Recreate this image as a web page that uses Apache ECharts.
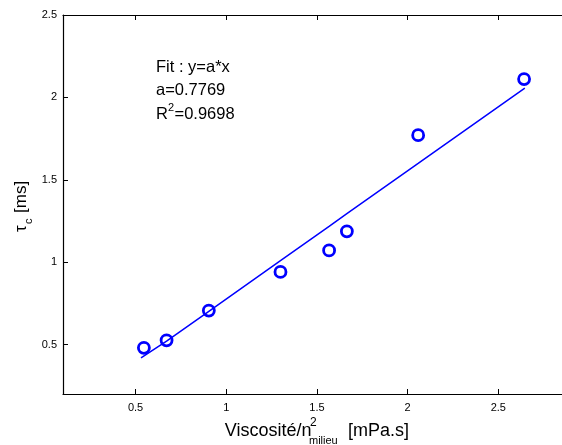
<!DOCTYPE html>
<html>
<head>
<meta charset="utf-8">
<script src="https://cdn.jsdelivr.net/npm/echarts@6/dist/echarts.min.js"></script>
<style>
html,body{margin:0;padding:0;background:#fff;}
#c{width:562px;height:445px;}
</style>
</head>
<body>
<div id="c"></div>
<script>
// Data
var viscX = [0.546, 0.671, 0.904, 1.299, 1.567, 1.665, 2.058, 2.642];
var tauY  = [0.480, 0.526, 0.706, 0.941, 1.071, 1.187, 1.771, 2.111];
var fitX  = [0.53, 0.671, 0.904, 1.299, 1.567, 1.665, 2.058, 2.646];
var fitY  = [0.419, 0.521, 0.702, 1.009, 1.217, 1.294, 1.599, 2.056];
var xTicks = [0.5, 1, 1.5, 2, 2.5];
var yTicks = [0.5, 1, 1.5, 2, 2.5];
var annotation = ['Fit : y=a*x', 'a=0.7769', 'R', '2', '=0.9698'];

var FONT = '"Liberation Sans", Arial, sans-serif';
var chart = echarts.init(document.getElementById('c'), null, {renderer: 'canvas'});

function pairs(xs, ys) { return xs.map(function (x, i) { return [x, ys[i]]; }); }

var axisCommon = {
  type: 'value',
  axisLine: {show: true, onZero: false, lineStyle: {color: '#000', width: 1.2}},
  splitLine: {show: false}
};

chart.setOption({
  animation: false,
  backgroundColor: '#fff',
  grid: {left: 63, right: 0, top: 15, bottom: 51},
  xAxis: [
    Object.assign({}, axisCommon, {
      position: 'bottom', min: 0.1, max: 2.851,
      axisTick: {show: true, inside: true, length: 5, customValues: xTicks, lineStyle: {color: '#000'}},
      axisLabel: {show: true, customValues: xTicks, margin: 8, fontSize: 11, color: '#000', fontFamily: FONT}
    }),
    Object.assign({}, axisCommon, {
      position: 'top', min: 0.1, max: 2.851,
      axisTick: {show: true, inside: true, length: 5, customValues: xTicks, lineStyle: {color: '#000'}},
      axisLabel: {show: false}
    })
  ],
  yAxis: [
    Object.assign({}, axisCommon, {
      position: 'left', min: 0.2, max: 2.5,
      axisTick: {show: true, inside: true, length: 5, customValues: yTicks, lineStyle: {color: '#000'}},
      axisLabel: {show: true, customValues: yTicks, margin: 6, fontSize: 11, color: '#000', fontFamily: FONT}
    })
  ],
  series: [
    {
      type: 'line', xAxisIndex: 0, yAxisIndex: 0,
      data: pairs(fitX, fitY), symbol: 'none', smooth: false,
      lineStyle: {color: '#0000ff', width: 1.5}, z: 2
    },
    {
      type: 'scatter', xAxisIndex: 0, yAxisIndex: 0,
      data: pairs(viscX, tauY), symbol: 'circle', symbolSize: 11,
      itemStyle: {color: 'rgba(0,0,0,0)', borderColor: '#0000ff', borderWidth: 2.8, opacity: 1}, z: 3
    }
  ],
  graphic: [
    {type: 'text', left: 156, top: 59, style: {text: annotation[0], font: '16.5px ' + FONT, fill: '#000'}},
    {type: 'text', left: 156, top: 82, style: {text: annotation[1], font: '16.5px ' + FONT, fill: '#000'}},
    {type: 'text', left: 156, top: 106, style: {text: annotation[2], font: '16.5px ' + FONT, fill: '#000'}},
    {type: 'text', left: 168, top: 102, style: {text: annotation[3], font: '11px ' + FONT, fill: '#000'}},
    {type: 'text', left: 174.5, top: 106, style: {text: annotation[4], font: '16.5px ' + FONT, fill: '#000'}},
    // x axis title
    {type: 'text', x: 311.5, y: 431, style: {text: 'Viscosité/n', font: '18px ' + FONT, fill: '#000', align: 'right', verticalAlign: 'middle'}},
    {type: 'text', x: 310, y: 423, style: {text: '2', font: '12px ' + FONT, fill: '#000', align: 'left', verticalAlign: 'middle'}},
    {type: 'text', x: 309, y: 441, style: {text: 'milieu', font: '11px ' + FONT, fill: '#000', align: 'left', verticalAlign: 'middle'}},
    {type: 'text', x: 348, y: 431, style: {text: '[mPa.s]', font: '18px ' + FONT, fill: '#000', align: 'left', verticalAlign: 'middle'}},
    // y axis title (rotated)
    {type: 'group', x: 21, y: 205, rotation: Math.PI / 2, children: [
      {type: 'text', x: -27, y: 0, style: {text: 'τ', font: '17px ' + FONT, fill: '#000', align: 'left', verticalAlign: 'middle'}},
      {type: 'text', x: -19, y: 8, style: {text: 'c', font: '11px ' + FONT, fill: '#000', align: 'left', verticalAlign: 'middle'}},
      {type: 'text', x: -8, y: 0, style: {text: '[ms]', font: '17px ' + FONT, fill: '#000', align: 'left', verticalAlign: 'middle'}}
    ]}
  ]
});
</script>
</body>
</html>
